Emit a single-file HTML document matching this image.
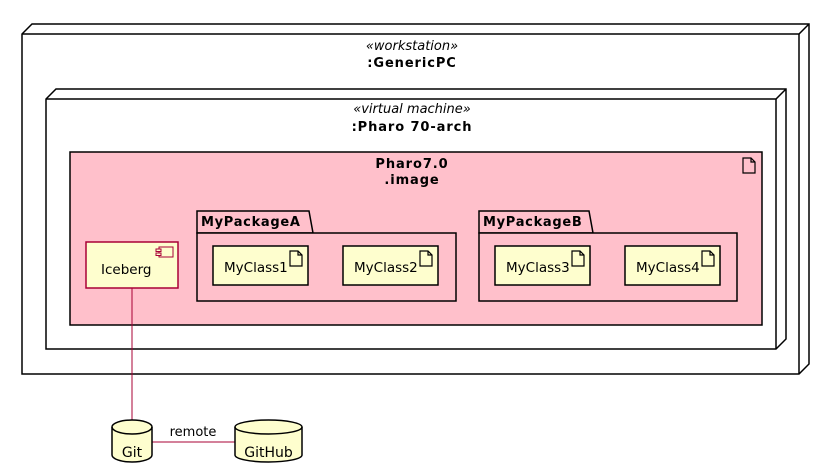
<!DOCTYPE html>
<html><head><meta charset="utf-8"><style>html,body{margin:0;padding:0;background:#fff;}svg{display:block}</style></head>
<body>
<svg width="830" height="476" viewBox="0 0 830 476" xmlns="http://www.w3.org/2000/svg" font-family="DejaVu Sans, Liberation Sans, sans-serif">
<!-- outer node -->
<polygon points="22,34 32,24 809,24 809,364 799,374 22,374" fill="#fff" stroke="#000" stroke-width="1.5"/>
<polyline points="22,34 799,34 809,24" fill="none" stroke="#000" stroke-width="1.5"/>
<line x1="799" y1="34" x2="799" y2="374" stroke="#000" stroke-width="1.5"/>
<text x="412" y="50" font-size="13" font-style="italic" text-anchor="middle">«workstation»</text>
<text x="412" y="67" font-size="13" font-weight="bold" letter-spacing="0.9" text-anchor="middle">:GenericPC</text>
<!-- inner node -->
<polygon points="46,99 56,89 786,89 786,339 776,349 46,349" fill="#fff" stroke="#000" stroke-width="1.5"/>
<polyline points="46,99 776,99 786,89" fill="none" stroke="#000" stroke-width="1.5"/>
<line x1="776" y1="99" x2="776" y2="349" stroke="#000" stroke-width="1.5"/>
<text x="412" y="113" font-size="13" font-style="italic" text-anchor="middle">«virtual machine»</text>
<text x="412" y="131" font-size="13" font-weight="bold" letter-spacing="0.9" text-anchor="middle">:Pharo 70-arch</text>
<!-- artifact -->
<rect x="70" y="152" width="692" height="173" fill="#FFC0CB" stroke="#000" stroke-width="1.5"/>
<path d="M743,158 h8 l4,4 v11 h-12 z M751,158 v4 h4" fill="none" stroke="#000" stroke-width="1.2"/>
<text x="412" y="168" font-size="13" font-weight="bold" letter-spacing="0.9" text-anchor="middle">Pharo7.0</text>
<text x="412" y="184" font-size="13" font-weight="bold" letter-spacing="0.9" text-anchor="middle">.image</text>
<!-- Iceberg -->
<rect x="86" y="242" width="92" height="46" fill="#FEFECE" stroke="#A80036" stroke-width="1.5"/>
<rect x="159" y="247" width="14" height="10" fill="#FEFECE" stroke="#A80036" stroke-width="1"/>
<rect x="156" y="249" width="5" height="2.5" fill="#FEFECE" stroke="#A80036" stroke-width="1"/>
<rect x="156" y="253" width="5" height="2.5" fill="#FEFECE" stroke="#A80036" stroke-width="1"/>
<text x="101" y="274" font-size="13.5">Iceberg</text>
<!-- Package A -->
<polygon points="197,233 197,211 309,211 313,233" fill="#FFC0CB" stroke="#000" stroke-width="1.5"/>
<rect x="197" y="233" width="259" height="68" fill="#FFC0CB" stroke="#000" stroke-width="1.5"/>
<text x="201" y="226" font-size="13" font-weight="bold" letter-spacing="0.7">MyPackageA</text>
<!-- Package B -->
<polygon points="479,233 479,211 589,211 593,233" fill="#FFC0CB" stroke="#000" stroke-width="1.5"/>
<rect x="479" y="233" width="258" height="68" fill="#FFC0CB" stroke="#000" stroke-width="1.5"/>
<text x="483" y="226" font-size="13" font-weight="bold" letter-spacing="0.7">MyPackageB</text>
<!-- classes -->
<g font-size="13.5">
<rect x="213" y="246" width="95" height="39" fill="#FEFECE" stroke="#000" stroke-width="1.5"/>
<text x="224" y="272">MyClass1</text>
<rect x="343" y="246" width="95" height="39" fill="#FEFECE" stroke="#000" stroke-width="1.5"/>
<text x="354" y="272">MyClass2</text>
<rect x="495" y="246" width="95" height="39" fill="#FEFECE" stroke="#000" stroke-width="1.5"/>
<text x="506" y="272">MyClass3</text>
<rect x="625" y="246" width="95" height="39" fill="#FEFECE" stroke="#000" stroke-width="1.5"/>
<text x="636" y="272">MyClass4</text>
</g>
<g fill="none" stroke="#000" stroke-width="1.2">
<path d="M290,251 h8 l4,4 v11 h-12 z M298,251 v4 h4"/>
<path d="M420,251 h8 l4,4 v11 h-12 z M428,251 v4 h4"/>
<path d="M572,251 h8 l4,4 v11 h-12 z M580,251 v4 h4"/>
<path d="M702,251 h8 l4,4 v11 h-12 z M710,251 v4 h4"/>
</g>
<!-- connectors -->
<line x1="132" y1="288" x2="132" y2="420" stroke="#A80036" stroke-width="1"/>
<line x1="152" y1="442" x2="235" y2="442" stroke="#A80036" stroke-width="1"/>
<text x="193" y="436" font-size="13" text-anchor="middle">remote</text>
<!-- Git -->
<path d="M112,427 A20,7 0 0 1 152,427 V455 A20,7 0 0 1 112,455 Z" fill="#FEFECE" stroke="#000" stroke-width="1.5"/>
<path d="M112,427 A20,7 0 0 0 152,427" fill="none" stroke="#000" stroke-width="1.5"/>
<text x="132" y="457" font-size="14" text-anchor="middle">Git</text>
<!-- GitHub -->
<path d="M235,427 A33.5,7 0 0 1 302,427 V455 A33.5,7 0 0 1 235,455 Z" fill="#FEFECE" stroke="#000" stroke-width="1.5"/>
<path d="M235,427 A33.5,7 0 0 0 302,427" fill="none" stroke="#000" stroke-width="1.5"/>
<text x="268.5" y="457" font-size="14" text-anchor="middle">GitHub</text>
</svg>
</body></html>
